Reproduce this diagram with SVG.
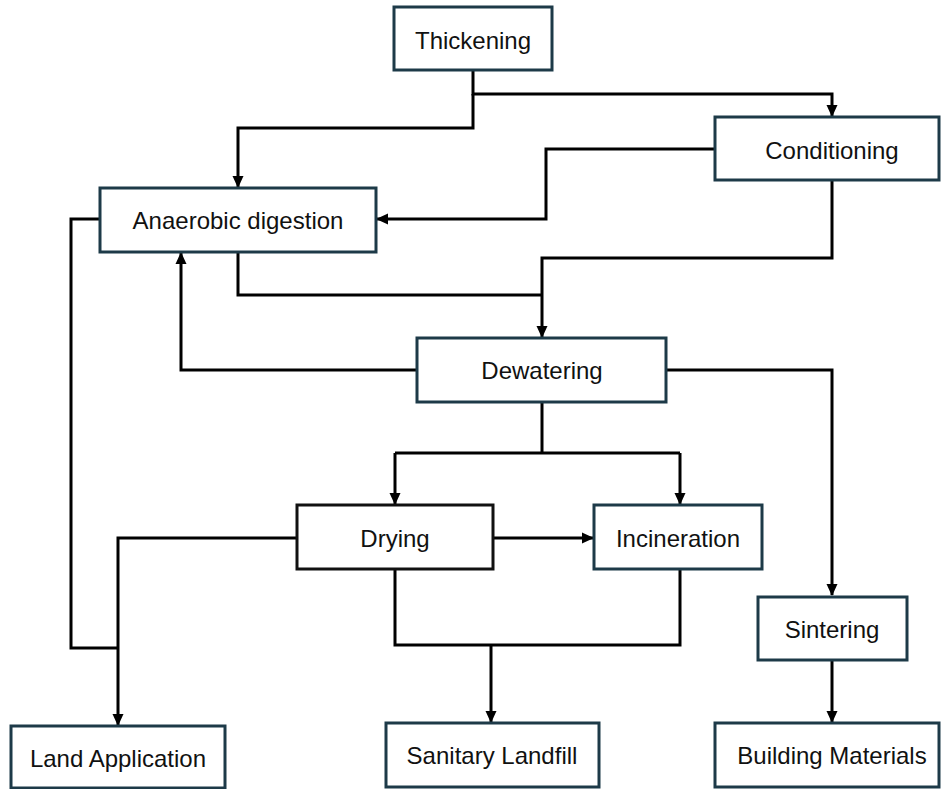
<svg xmlns="http://www.w3.org/2000/svg" width="942" height="789" viewBox="0 0 942 789">
<style>
.box{fill:#fff;stroke:#1d3a48;stroke-width:3}
.box.blk{stroke:#111}
.lbl{font-family:"Liberation Sans",Arial,sans-serif;font-size:24px;fill:#111;text-anchor:middle;dominant-baseline:central}
.c{fill:none;stroke:#000;stroke-width:3}
</style>
<defs>
<marker id="ah" markerUnits="userSpaceOnUse" markerWidth="12" markerHeight="12" viewBox="0 0 12 12" refX="11" refY="6" orient="auto">
<path d="M0,0.5 L12,6 L0,11.5 Z" fill="#000"/>
</marker>
</defs>
<rect width="942" height="789" fill="#fff"/>
<g id="connectors">
<path class="c" d="M473,71 V94 H832 V116" marker-end="url(#ah)"/>
<path class="c" d="M473,94 V128 H238 V187" marker-end="url(#ah)"/>
<path class="c" d="M715,149 H546 V219 H377" marker-end="url(#ah)"/>
<path class="c" d="M832,181 V258 H542 V337" marker-end="url(#ah)"/>
<path class="c" d="M238,253 V295 H542"/>
<path class="c" d="M417,370 H181 V253" marker-end="url(#ah)"/>
<path class="c" d="M100,219 H71 V648 H118"/>
<path class="c" d="M297,538 H118 V725" marker-end="url(#ah)"/>
<path class="c" d="M542,403 V453"/>
<path class="c" d="M395,453 H680"/>
<path class="c" d="M395,453 V504" marker-end="url(#ah)"/>
<path class="c" d="M680,453 V504" marker-end="url(#ah)"/>
<path class="c" d="M494,538 H593" marker-end="url(#ah)"/>
<path class="c" d="M667,370 H832 V595" marker-end="url(#ah)"/>
<path class="c" d="M395,570 V645 H680 V570"/>
<path class="c" d="M491,645 V722" marker-end="url(#ah)"/>
<path class="c" d="M832,661 V722" marker-end="url(#ah)"/>
</g>
<g id="thickening"><rect class="box" x="394" y="7" width="158" height="63"/><text class="lbl" x="473" y="40">Thickening</text></g>
<g id="conditioning"><rect class="box" x="715" y="117" width="224" height="63"/><text class="lbl" x="832" y="150">Conditioning</text></g>
<g id="anaerobic"><rect class="box" x="100" y="188" width="276" height="64"/><text class="lbl" x="238" y="220">Anaerobic digestion</text></g>
<g id="dewatering"><rect class="box" x="417" y="338" width="249" height="64"/><text class="lbl" x="542" y="370">Dewatering</text></g>
<g id="drying"><rect class="box blk" x="297" y="505" width="196" height="64"/><text class="lbl" x="395" y="538">Drying</text></g>
<g id="incineration"><rect class="box" x="594" y="505" width="168" height="64"/><text class="lbl" x="678" y="538">Incineration</text></g>
<g id="sintering"><rect class="box" x="758" y="597" width="149" height="63"/><text class="lbl" x="832" y="629">Sintering</text></g>
<g id="land"><rect class="box" x="11" y="726" width="214" height="62"/><text class="lbl" x="118" y="758">Land Application</text></g>
<g id="landfill"><rect class="box" x="386" y="723" width="213" height="64"/><text class="lbl" x="492" y="755">Sanitary Landfill</text></g>
<g id="building"><rect class="box" x="715" y="723" width="224" height="64"/><text class="lbl" x="832" y="755">Building Materials</text></g>
</svg>
